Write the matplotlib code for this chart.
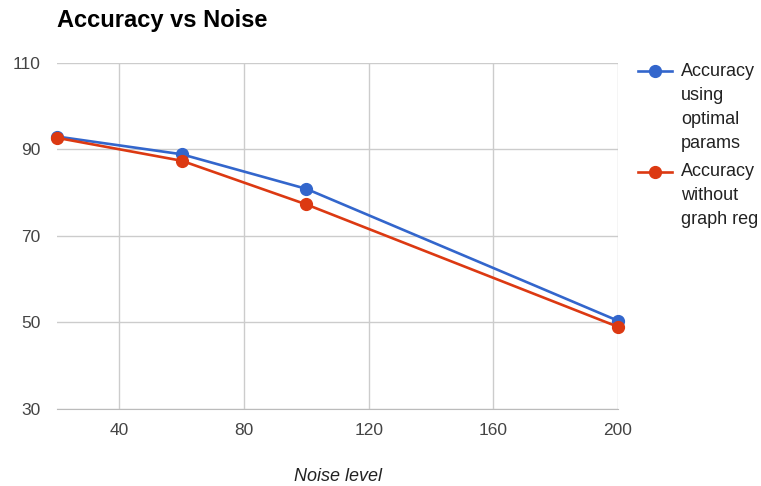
import matplotlib.pyplot as plt
from matplotlib.lines import Line2D

plt.rcParams['font.family'] = ['Liberation Sans', 'DejaVu Sans']

## DATA
noise = [20, 60, 100, 200]
acc_optimal = [93.0, 88.9, 80.9, 50.4]
acc_no_graph = [92.7, 87.4, 77.3, 49.0]
series_labels = ["Accuracy\nusing\noptimal\nparams", "Accuracy\nwithout\ngraph reg"]
series_colors = ['#3366cc', '#dc3912']
x_ticks = [40, 80, 120, 160, 200]
y_ticks = [30, 50, 70, 90, 110]

W, H = 761, 486

## PLOT
fig = plt.figure(figsize=(W / 100, H / 100), dpi=100)
ax = fig.add_axes([57 / W, 1 - 409 / H, (618 - 57) / W, (409 - 63) / H])

for vals, col, z in zip([acc_optimal, acc_no_graph], series_colors, [3, 4]):
    ax.plot(noise, vals, color=col, lw=1.9, marker='o', ms=8.5,
            zorder=z, clip_on=False)

ax.set_xlim(20, 200)
ax.set_ylim(30, 110)
ax.set_xticks(x_ticks)
ax.set_yticks(y_ticks)
ax.grid(True, color='#cccccc', lw=1)
ax.set_axisbelow(True)
for s in ['top', 'left', 'right']:
    ax.spines[s].set_visible(False)
ax.spines['bottom'].set_color('#bbbbbb')
ax.tick_params(length=0, labelsize=12.5, colors='#444444')
ax.tick_params(axis='x', pad=10)
ax.tick_params(axis='y', pad=12)

ax.set_xlabel("Noise level", fontsize=13, style='italic', color='#222222', labelpad=22)
fig.text(57 / W, 1 - 21 / H, "Accuracy vs Noise", fontsize=17, fontweight='bold',
         ha='left', va='center', color='#000000')

# legend drawn by hand so the marker sits on the first text line
y_px = 71
for lab, col in zip(series_labels, series_colors):
    fy = 1 - y_px / H
    fig.add_artist(Line2D([638 / W, 672 / W], [fy, fy], color=col, lw=1.9))
    fig.add_artist(Line2D([655 / W], [fy], color=col, marker='o', ms=8.5))
    lines = lab.split('\n')
    for i, ln in enumerate(lines):
        fig.text(681 / W, 1 - (y_px + 24 * i) / H, ln, fontsize=13,
                 color='#222222', ha='left', va='center')
    y_px += 24 * len(lines) + 5

fig.savefig('out.png', dpi=100)
